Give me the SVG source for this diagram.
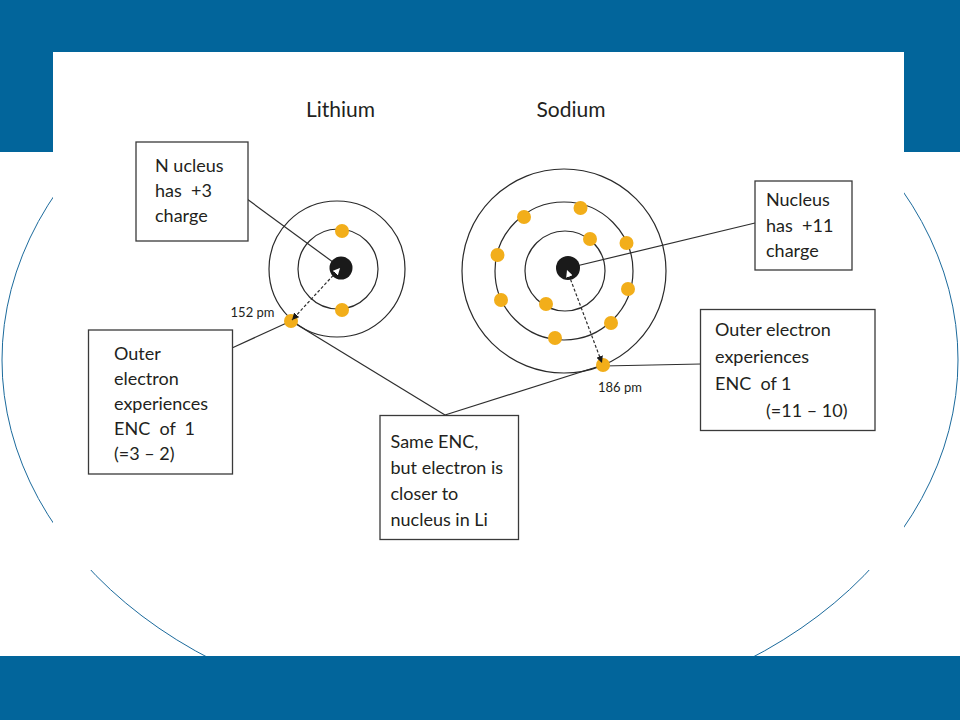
<svg xmlns="http://www.w3.org/2000/svg" width="960" height="720" viewBox="0 0 960 720">
  <defs>
    <style>
      .lbl { font-family: Lato, "Noto Sans", "Liberation Sans", sans-serif; font-size: 18px; fill: #231F20; white-space: pre; }
      .ttl { font-family: Lato, "Noto Sans", "Liberation Sans", sans-serif; font-size: 21px; fill: #231F20; }
      .pm { font-family: Lato, "Noto Sans", "Liberation Sans", sans-serif; font-size: 13px; fill: #231F20; }
      .box { fill: #FFFFFF; stroke: #3A3A3A; stroke-width: 1.3; }
      .orbit { fill: none; stroke: #2A2A2A; stroke-width: 1.2; }
      .nuc { fill: #1A1A1A; }
      .el { fill: #F2AE1A; }
      .conn { fill: none; stroke: #2E2E2E; stroke-width: 1.2; }
      .dash { fill: none; stroke: #2E2E2E; stroke-width: 1.2; stroke-dasharray: 3 2; }
    </style>
    <marker id="headDark" viewBox="0 0 10 10" refX="10" refY="5" markerWidth="7" markerHeight="7" markerUnits="userSpaceOnUse" orient="auto">
      <path d="M0,0 L10,5 L0,10 z" fill="#1A1A1A"/>
    </marker>
    <marker id="headWhite" viewBox="0 0 10 10" refX="10" refY="5" markerWidth="7" markerHeight="7" markerUnits="userSpaceOnUse" orient="auto-start-reverse">
      <path d="M0,0 L10,5 L0,10 z" fill="#FFFFFF"/>
    </marker>
  </defs>

  <!-- background -->
  <rect x="0" y="0" width="960" height="720" fill="#FFFFFF"/>
  <ellipse cx="480" cy="360" rx="478" ry="362" fill="none" stroke="#1B6A9C" stroke-width="1"/>
  <path d="M0,0 H960 V152 H904 V52 H53 V152 H0 Z" fill="#02659B"/>
  <rect x="0" y="656" width="960" height="64" fill="#02659B"/>
  <rect x="53" y="52" width="851" height="518" fill="#FFFFFF"/>

  <!-- titles -->
  <text class="ttl" x="340.5" y="116.5" text-anchor="middle">Lithium</text>
  <text class="ttl" x="571" y="116.5" text-anchor="middle">Sodium</text>

  <!-- connectors -->
  <g id="connectors">
    <line class="conn" x1="247" y1="199" x2="341" y2="268"/>
    <line class="conn" x1="232" y1="348" x2="291" y2="321" stroke-width="1.8"/>
    <line class="conn" x1="291" y1="321" x2="445" y2="415"/>
    <line class="conn" x1="603" y1="365" x2="445" y2="415"/>
    <line class="conn" x1="568" y1="268" x2="755" y2="223"/>
    <line class="conn" x1="603" y1="366" x2="701" y2="364"/>
  </g>

  <!-- lithium atom -->
  <g id="lithium">
    <circle class="orbit" cx="337" cy="269" r="68"/>
    <circle class="orbit" cx="338" cy="269" r="40"/>
    <circle class="nuc" cx="341" cy="268" r="11.5"/>
    <circle class="el" cx="342" cy="231" r="7"/>
    <circle class="el" cx="342" cy="310" r="7"/>
    <circle class="el" cx="291" cy="321" r="7"/>
    <line class="dash" x1="340" y1="268" x2="292" y2="320" marker-start="url(#headWhite)" marker-end="url(#headDark)"/>
  </g>

  <!-- sodium atom -->
  <g id="sodium">
    <circle class="orbit" cx="564" cy="271" r="102"/>
    <circle class="orbit" cx="564" cy="271" r="69"/>
    <circle class="orbit" cx="565" cy="271" r="40"/>
    <circle class="nuc" cx="568" cy="268" r="12"/>
    <circle class="el" cx="590" cy="239" r="7"/>
    <circle class="el" cx="546" cy="304" r="7"/>
    <circle class="el" cx="580.5" cy="208" r="7"/>
    <circle class="el" cx="524" cy="217" r="7"/>
    <circle class="el" cx="626.5" cy="243" r="7"/>
    <circle class="el" cx="497.5" cy="255" r="7"/>
    <circle class="el" cx="628" cy="289" r="7"/>
    <circle class="el" cx="501" cy="300" r="7"/>
    <circle class="el" cx="611" cy="323" r="7"/>
    <circle class="el" cx="555" cy="338" r="7"/>
    <circle class="el" cx="603" cy="365" r="7"/>
    <line class="dash" x1="567" y1="270" x2="602" y2="363" marker-start="url(#headWhite)" marker-end="url(#headDark)"/>
  </g>

  <text class="pm" x="274.5" y="317" text-anchor="end">152 pm</text>
  <text class="pm" x="598" y="392">186 pm</text>

  <!-- boxes -->
  <g id="box-li-nucleus">
    <rect class="box" x="136" y="142" width="112" height="99"/>
    <text class="lbl" x="155" y="172">N ucleus</text>
    <text class="lbl" x="155" y="197">has  +3</text>
    <text class="lbl" x="155" y="222">charge</text>
  </g>

  <g id="box-li-outer">
    <rect class="box" x="88.5" y="330" width="144" height="144"/>
    <text class="lbl" x="114" y="360">Outer</text>
    <text class="lbl" x="114" y="385">electron</text>
    <text class="lbl" x="114" y="410">experiences</text>
    <text class="lbl" x="114" y="435">ENC  of  1</text>
    <text class="lbl" x="114" y="460">(=3 – 2)</text>
  </g>

  <g id="box-same-enc">
    <rect class="box" x="380" y="415.5" width="138.5" height="124"/>
    <text class="lbl" x="390.5" y="448">Same ENC,</text>
    <text class="lbl" x="390.5" y="474">but electron is</text>
    <text class="lbl" x="390.5" y="500">closer to</text>
    <text class="lbl" x="390.5" y="526">nucleus in Li</text>
  </g>

  <g id="box-na-nucleus">
    <rect class="box" x="755" y="181" width="97" height="89"/>
    <text class="lbl" x="766" y="206">Nucleus</text>
    <text class="lbl" x="766" y="232">has  +11</text>
    <text class="lbl" x="766" y="257">charge</text>
  </g>

  <g id="box-na-outer">
    <rect class="box" x="700.5" y="309.5" width="174.5" height="121"/>
    <text class="lbl" x="715" y="336">Outer electron</text>
    <text class="lbl" x="715" y="363">experiences</text>
    <text class="lbl" x="715" y="390">ENC  of 1</text>
    <text class="lbl" x="766" y="417">(=11 – 10)</text>
  </g>
</svg>
